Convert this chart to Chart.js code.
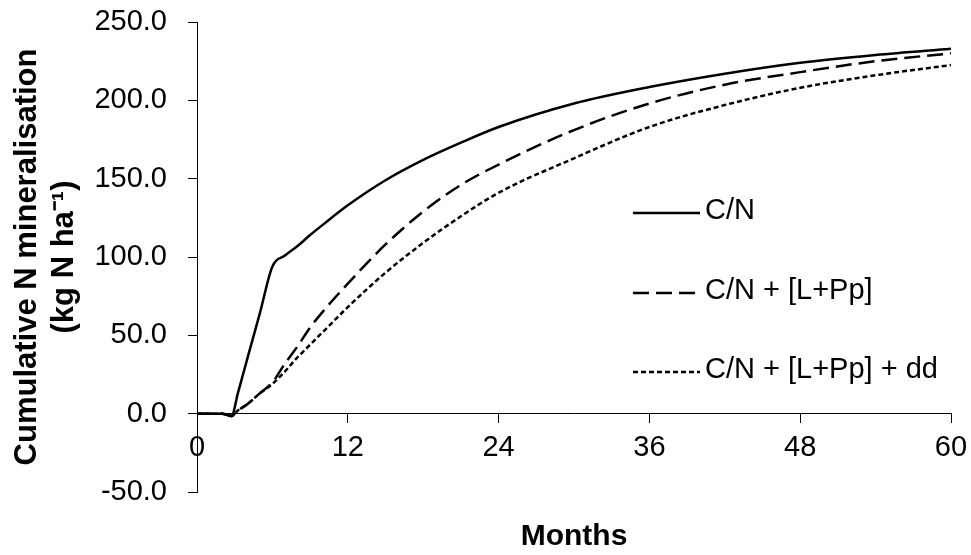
<!DOCTYPE html>
<html>
<head>
<meta charset="utf-8">
<script src="https://cdn.jsdelivr.net/npm/chart.js@4"></script>
<style>
  html, body { margin: 0; padding: 0; background: #fff; }
  #wrap { width: 971px; height: 555px; }
</style>
</head>
<body>
<div id="wrap"><canvas id="nmin"></canvas></div>
<script>
// months since start
var months = [0, 1, 2, 2.75, 3.25, 4, 5, 6, 7, 8, 9, 10, 12, 15, 18, 21, 24, 30, 36, 42, 48, 54, 60];

// cumulative N mineralisation, kg N/ha
var cn       = [0, 0, 0, -1.5, 13, 35, 64, 94, 101, 107, 114, 120.5, 133, 149, 162, 173, 183, 198, 208.5, 217, 224, 229, 233];
var cnLPp    = [0, 0, 0, -1.5, 2, 6, 13, 20, 32, 43, 55, 65, 83, 108, 129, 146, 159, 181, 198, 210, 218, 225, 230];
var cnLPpDd  = [0, 0, 0, -1.5, 2, 6, 13, 19, 27, 36, 44, 52, 68, 90, 109, 126, 141, 163, 183, 197, 208, 216, 222.5];

var seriesNames = ['C/N', 'C/N + [L+Pp]', 'C/N + [L+Pp] + dd'];
var xTicks = [0, 12, 24, 36, 48, 60];
var yTicks = [-50, 0, 50, 100, 150, 200, 250];
var xTitle = 'Months';

var FONT = "'Liberation Sans', Arial, sans-serif";

function pts(ys) {
    return months.map(function(m, i) { return { x: m, y: ys[i] }; });
}

// legend drawn inside the plot + x title centred under the plot
var sideLegend = {
    id: 'sideLegend',
    afterDraw: function(chart) {
        var ctx = chart.ctx;
        var ca = chart.chartArea;
        var x0 = ca.left + 436;
        var rows = [211, 291, 370];
        ctx.save();
        ctx.font = '29px ' + FONT;
        ctx.textBaseline = 'middle';
        ctx.fillStyle = '#000';
        chart.data.datasets.forEach(function(ds, i) {
            ctx.beginPath();
            ctx.setLineDash(ds.borderDash || []);
            ctx.lineWidth = ds.borderWidth;
            ctx.strokeStyle = ds.borderColor;
            ctx.moveTo(x0, rows[i] + 2);
            ctx.lineTo(x0 + 67, rows[i] + 2);
            ctx.stroke();
            ctx.fillText(ds.label, x0 + 72, rows[i]);
        });
        ctx.font = 'bold 30px ' + FONT;
        ctx.textAlign = 'center';
        ctx.fillText(xTitle, (ca.left + ca.right) / 2, ca.bottom + 45);
        ctx.restore();
    }
};

var ctx = document.getElementById('nmin').getContext('2d');
var myChart = new Chart(ctx, {
    type: 'line',
    data: {
        datasets: [
            {
                label: seriesNames[0],
                data: pts(cn),
                borderColor: '#000',
                borderWidth: 2.5,
                borderDash: []
            },
            {
                label: seriesNames[1],
                data: pts(cnLPp),
                borderColor: '#000',
                borderWidth: 2.5,
                borderDash: [16, 7]
            },
            {
                label: seriesNames[2],
                data: pts(cnLPpDd),
                borderColor: '#000',
                borderWidth: 2.5,
                borderDash: [5, 3]
            }
        ]
    },
    options: {
        responsive: true,
        maintainAspectRatio: false,
        animation: false,
        elements: {
            point: { radius: 0 },
            line: { cubicInterpolationMode: 'monotone', fill: false }
        },
        layout: { padding: { top: 22, right: 20, left: 0, bottom: 63 } },
        plugins: {
            legend: { display: false },
            tooltip: { enabled: false }
        },
        scales: {
            x: {
                type: 'linear',
                position: { y: 0 },
                min: 0,
                max: 60,
                afterBuildTicks: function(scale) {
                    scale.ticks = xTicks.map(function(v) { return { value: v }; });
                },
                afterFit: function(scale) { scale.paddingLeft = 0; scale.paddingRight = 0; },
                grid: { drawOnChartArea: false, drawTicks: true, tickLength: 9, color: '#000' },
                border: { color: '#000', width: 1 },
                ticks: {
                    color: '#000',
                    padding: 8,
                    maxRotation: 0,
                    font: { family: FONT, size: 29 }
                }
            },
            y: {
                min: -50,
                max: 250,
                afterBuildTicks: function(scale) {
                    scale.ticks = yTicks.map(function(v) { return { value: v }; });
                },
                afterFit: function(scale) {
                    scale.width = 197;
                    scale.paddingTop = 0;
                    scale.paddingBottom = 0;
                },
                grid: { drawOnChartArea: false, drawTicks: true, tickLength: 9, color: '#000' },
                border: { color: '#000', width: 1 },
                ticks: {
                    color: '#000',
                    padding: 21,
                    font: { family: FONT, size: 29 },
                    callback: function(v) { return Number(v).toFixed(1); }
                },
                title: {
                    display: true,
                    text: ['Cumulative N mineralisation', '(kg N ha\u207B\u00B9)'],
                    color: '#000',
                    font: { family: FONT, size: 31, weight: 'bold', lineHeight: 1.2 },
                    padding: { top: 9, bottom: 0 }
                }
            }
        }
    },
    plugins: [sideLegend]
});
</script>
</body>
</html>
